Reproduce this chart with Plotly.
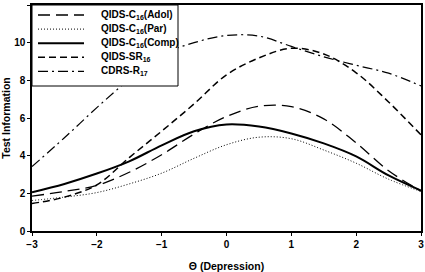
import plotly.graph_objects as go

theta = [-3, -2.5, -2, -1.5, -1, -0.5, 0, 0.5, 1, 1.5, 2, 2.5, 3]

adol = [1.85, 2.1, 2.42, 3.12, 4.05, 5.15, 6.08, 6.62, 6.6, 5.95, 4.68, 3.2, 2.12]
par = [1.62, 1.8, 2.04, 2.5, 3.07, 3.86, 4.58, 4.98, 4.9, 4.3, 3.6, 2.75, 2.1]
comp = [2.06, 2.5, 3.05, 3.7, 4.55, 5.3, 5.66, 5.55, 5.18, 4.65, 3.96, 2.95, 2.15]
sr = [1.46, 1.8, 2.45, 3.9, 5.3, 6.75, 8.29, 9.19, 9.7, 9.4, 8.4, 6.85, 5.1]
cdrs = [3.42, 4.95, 6.55, 8.05, 9.35, 10.0, 10.38, 10.35, 9.8, 9.25, 8.8, 8.38, 7.7]

names = [
    "QIDS-C<sub>16</sub>(Adol)",
    "QIDS-C<sub>16</sub>(Par)",
    "QIDS-C<sub>16</sub>(Comp)",
    "QIDS-SR<sub>16</sub>",
    "CDRS-R<sub>17</sub>",
]
series = [adol, par, comp, sr, cdrs]
dashes = ["12px,6px", "1px,2px", "solid", "7px,4px", "10px,4px,2px,4px"]
widths = [1.3, 1.0, 2.0, 1.5, 1.2]

xticks = [-3, -2, -1, 0, 1, 2, 3]
yticks = [0, 2, 4, 6, 8, 10, 12]

FONT = "Liberation Sans, Arial, sans-serif"

fig = go.Figure()
for n, s, d, w in zip(names, series, dashes, widths):
    fig.add_trace(go.Scatter(
        x=theta, y=s, mode="lines", name=n, showlegend=False,
        line=dict(color="black", dash=d, width=w, shape="spline", smoothing=1.0),
    ))

# plot area in pixels: x 32..421, y 5..231
W, H = 425, 272
L, R, T, B = 32, 4, 5, 41
pw, ph = W - L - R, H - T - B

def px_x(p):
    return (p - L) / pw

def px_y(p):
    return 1 - (p - T) / ph

# manual legend (box, line samples, labels)
shapes = [dict(type="rect", xref="paper", yref="paper",
               x0=0, x1=px_x(178), y0=px_y(86), y1=1,
               line=dict(color="black", width=1), fillcolor="white", layer="above")]
annotations = []
for i, (n, d, w) in enumerate(zip(names, dashes, widths)):
    yy = px_y(15 + 14.1 * i)
    shapes.append(dict(type="line", xref="paper", yref="paper",
                       x0=px_x(38), x1=px_x(84), y0=yy, y1=yy,
                       line=dict(color="black", dash=d, width=w), layer="above"))
    annotations.append(dict(xref="paper", yref="paper", x=px_x(99), y=yy,
                            xanchor="left", yanchor="middle", showarrow=False,
                            text=n, font=dict(size=10, family=FONT, weight="bold")))

fig.update_layout(
    width=W, height=H,
    margin=dict(l=L, r=R, t=T, b=B),
    paper_bgcolor="white", plot_bgcolor="white",
    font=dict(family=FONT, color="black", size=10),
    showlegend=False,
    shapes=shapes, annotations=annotations,
    xaxis=dict(
        range=[-3, 3], tickvals=xticks, automargin=False,
        showgrid=False, zeroline=False,
        showline=True, linecolor="black", linewidth=1.5, mirror=True,
        ticks="outside", ticklen=3, tickcolor="black",
        tickfont=dict(size=10, weight="bold"),
        title=dict(text="Θ (Depression)", font=dict(size=10.5, weight="bold")),
    ),
    yaxis=dict(
        range=[0, 12], tickvals=yticks, automargin=False,
        showgrid=False, zeroline=False,
        showline=True, linecolor="black", linewidth=1.5, mirror=True,
        ticks="outside", ticklen=3, tickcolor="black",
        tickfont=dict(size=10, weight="bold"),
        title=dict(text="Test Information", font=dict(size=10.5, weight="bold")),
    ),
    xaxis2=dict(overlaying="x", anchor="y", range=[-3, 3], tickvals=xticks,
                ticks="inside", ticklen=3, tickcolor="black", showticklabels=False,
                showgrid=False, zeroline=False, showline=False, automargin=False),
    yaxis2=dict(overlaying="y", anchor="x", range=[0, 12], tickvals=yticks,
                ticks="inside", ticklen=3, tickcolor="black", showticklabels=False,
                showgrid=False, zeroline=False, showline=False, automargin=False),
)

fig.write_html("out.html", config={"displayModeBar": False},
               post_script="document.body.style.margin='0';")
